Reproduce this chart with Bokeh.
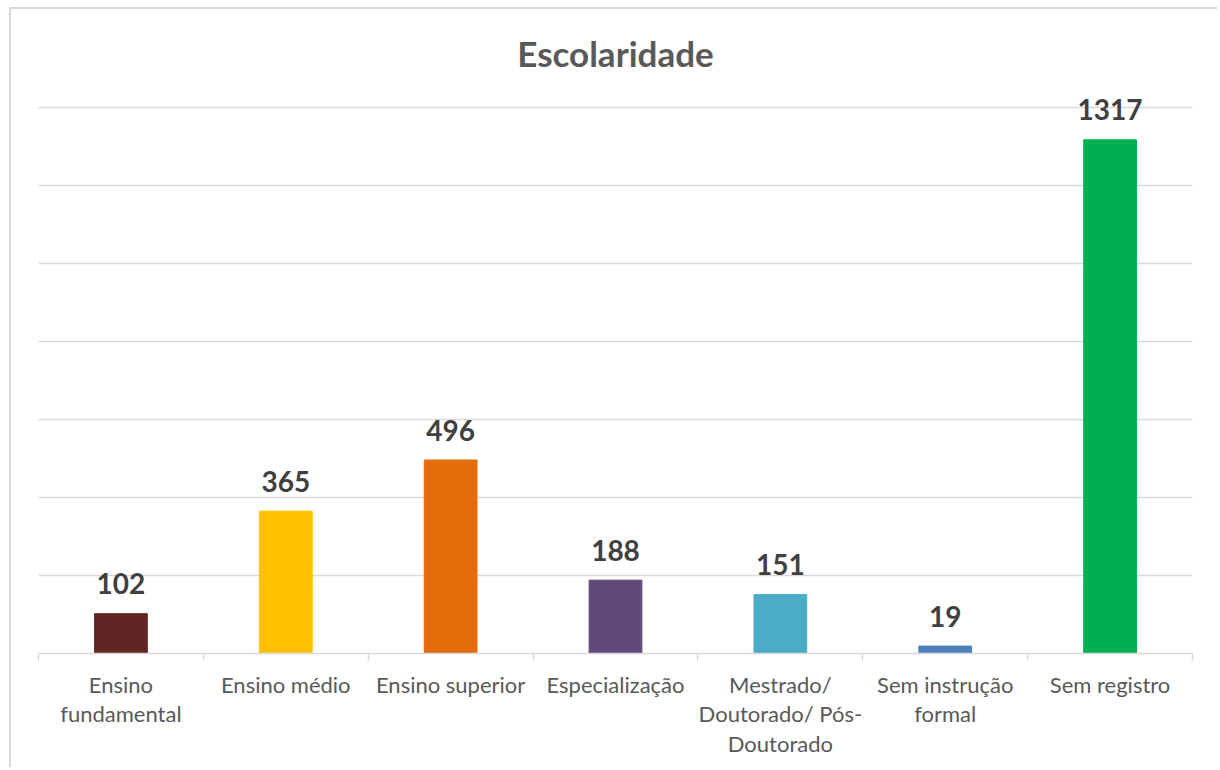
from bokeh.plotting import figure
from bokeh.models import ColumnDataSource, Range1d, FixedTicker, Label
from bokeh.core.properties import value
from bokeh.embed import file_html
from bokeh.resources import INLINE

title_text = "Escolaridade"
categories = ["Ensino fundamental", "Ensino médio", "Ensino superior", "Especialização",
              "Mestrado/ Doutorado/ Pós-Doutorado", "Sem instrução formal", "Sem registro"]
tick_labels = ["Ensino\nfundamental", "Ensino médio", "Ensino superior", "Especialização",
               "Mestrado/\nDoutorado/ Pós-\nDoutorado", "Sem instrução\nformal", "Sem registro"]
counts = [102, 365, 496, 188, 151, 19, 1317]
colors = ["#632523", "#FFC000", "#E46C0A", "#604A7B", "#4BACC6", "#4F81BD", "#00B050"]
y_ticks = [0, 200, 400, 600, 800, 1000, 1200, 1400]

n = len(categories)
xpos = [i + 0.5 for i in range(n)]
source = ColumnDataSource(dict(x=xpos, top=counts, color=colors,
                               label=[str(c) for c in counts]))

FONT = "Lato"
Y_MAX = y_ticks[-1]
Y_END = 1651  # extra headroom so title and data labels sit inside the frame

p = figure(width=1208, height=760, output_backend="svg", toolbar_location=None,
           x_range=Range1d(0, n), y_range=Range1d(0, Y_END),
           min_border_left=27, min_border_right=27, min_border_top=0, min_border_bottom=116)
p.outline_line_color = None
p.styles = {"margin-left": "9px", "margin-top": "7px",
            "border-left": "2px solid #d9d9d9", "border-top": "2px solid #d9d9d9"}

p.vbar(x="x", top="top", width=0.32, bottom=0, color="color", source=source)
p.text(x="x", y="top", text="label", source=source, text_align="center",
       text_baseline="alphabetic", y_offset=-30, text_font=value(FONT),
       text_font_size="28px", text_font_style="bold", text_color="#404040")

title = Label(x=n / 2, y=Y_MAX, text=title_text, text_align="center", text_baseline="middle",
              y_offset=54, text_font=FONT, text_font_size="35px", text_font_style="bold",
              text_color="#595959")
p.add_layout(title)

p.yaxis.visible = False
p.ygrid.ticker = FixedTicker(ticks=y_ticks)
p.ygrid.grid_line_color = "#d9d9d9"
p.ygrid.grid_line_width = 1.5
p.xgrid.visible = False

ax = p.xaxis[0]
ax.ticker = FixedTicker(ticks=xpos, minor_ticks=list(range(n + 1)))
ax.major_label_overrides = {x: t for x, t in zip(xpos, tick_labels)}
ax.major_tick_line_color = None
ax.major_tick_out = 0
ax.major_tick_in = 0
ax.minor_tick_line_color = "#d9d9d9"
ax.minor_tick_line_width = 1.5
ax.minor_tick_out = 7
ax.minor_tick_in = 0
ax.axis_line_color = "#d9d9d9"
ax.axis_line_width = 1.5
ax.major_label_text_font = FONT
ax.major_label_text_font_size = "22px"
ax.major_label_text_color = "#595959"
ax.major_label_text_line_height = 1.1
ax.major_label_standoff = 10

open("out.html", "w").write(file_html(p, INLINE))
